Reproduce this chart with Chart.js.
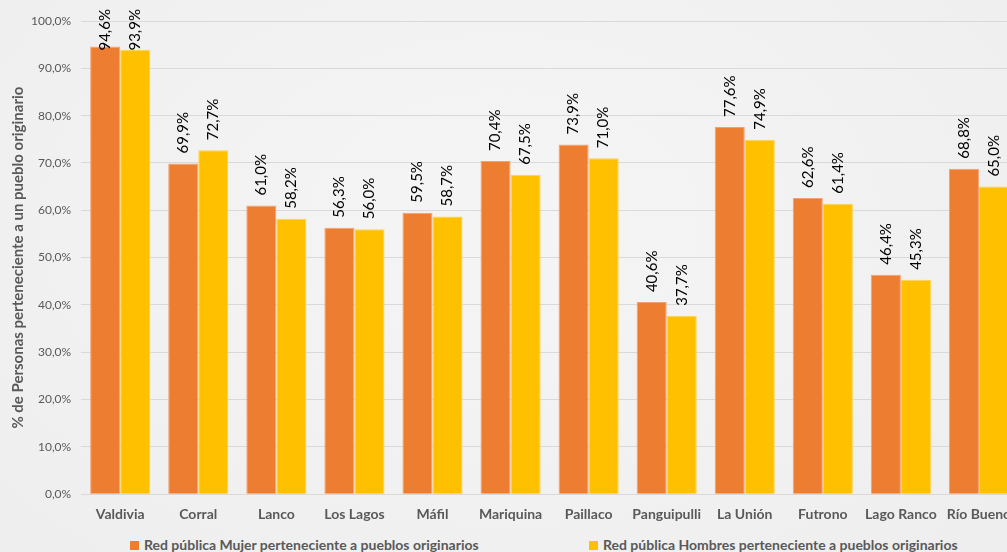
<!DOCTYPE html>
<html>
<head>
<meta charset="utf-8">
<script src="https://cdn.jsdelivr.net/npm/chart.js@4"></script>
<style>
  html, body { margin: 0; padding: 0; overflow: hidden; }
  body { width: 1007px; height: 552px; background: radial-gradient(ellipse at 50% 40%, #f5f5f5 0%, #eeeeee 100%); position: relative; font-family: Lato, sans-serif; }
  #wrap { position: absolute; left: 0; top: 0; width: 1022px; height: 527px; }
  #legend { position: absolute; top: 536px; left: 0; width: 1022px; font: bold 14px Lato, sans-serif; color: #595959; }
  .item { position: absolute; top: 0; white-space: nowrap; }
  .sw { display: inline-block; width: 9px; height: 9px; margin-right: 5px; vertical-align: 0px; }
</style>
</head>
<body>
<div id="wrap"><canvas id="chart"></canvas></div>
<div id="legend">
  <span class="item" style="left:130px"><span class="sw" style="background:#ED7D31"></span>Red pública Mujer perteneciente a pueblos originarios</span>
  <span class="item" style="left:589px"><span class="sw" style="background:#FFC000"></span>Red pública Hombres perteneciente a pueblos originarios</span>
</div>
<script>
const comunas = ['Valdivia', 'Corral', 'Lanco', 'Los Lagos', 'Máfil', 'Mariquina', 'Paillaco', 'Panguipulli', 'La Unión', 'Futrono', 'Lago Ranco', 'Río Bueno'];
const mujeres = [94.6, 69.9, 61.0, 56.3, 59.5, 70.4, 73.9, 40.6, 77.6, 62.6, 46.4, 68.8];
const hombres = [93.9, 72.7, 58.2, 56.0, 58.7, 67.5, 71.0, 37.7, 74.9, 61.4, 45.3, 65.0];

function pct(v) {
    return v.toFixed(1).replace('.', ',') + '%';
}

// etiquetas verticales sobre cada barra
const barLabels = {
    id: 'barLabels',
    afterDatasetsDraw(chart) {
        const ctx = chart.ctx;
        ctx.save();
        ctx.font = '15px Lato, sans-serif';
        ctx.fillStyle = '#000000';
        ctx.textAlign = 'left';
        ctx.textBaseline = 'middle';
        chart.data.datasets.forEach((ds, i) => {
            chart.getDatasetMeta(i).data.forEach((bar, j) => {
                const txt = pct(ds.data[j]);
                const w = ctx.measureText(txt).width;
                let start = bar.y - 10;
                if (start - w < 9) start = 9 + w;
                ctx.save();
                ctx.translate(bar.x, start);
                ctx.rotate(-Math.PI / 2);
                ctx.fillText(txt, 0, 0);
                ctx.restore();
            });
        });
        ctx.restore();
    }
};

new Chart(document.getElementById('chart'), {
    type: 'bar',
    data: {
        labels: comunas,
        datasets: [{
            label: 'Red pública Mujer perteneciente a pueblos originarios',
            data: mujeres,
            backgroundColor: '#ED7D31',
            borderColor: '#F4A06E',
            borderWidth: 1,
            barPercentage: 1,
            categoryPercentage: 0.77
        }, {
            label: 'Red pública Hombres perteneciente a pueblos originarios',
            data: hombres,
            backgroundColor: '#FFC000',
            borderColor: '#FFD24D',
            borderWidth: 1,
            barPercentage: 1,
            categoryPercentage: 0.77
        }]
    },
    options: {
        responsive: true,
        maintainAspectRatio: false,
        animation: false,
        layout: { padding: { top: 21, right: 4, left: 9 } },
        plugins: {
            legend: { display: false },
            tooltip: { enabled: false }
        },
        scales: {
            x: {
                grid: { display: false },
                border: { color: '#d9d9d9', width: 1 },
                ticks: { color: '#595959', font: { family: 'Lato', size: 14, weight: 'bold' }, padding: 4, maxRotation: 0 }
            },
            y: {
                min: 0,
                max: 100,
                grid: { color: '#d9d9d9', drawTicks: false },
                border: { display: false },
                ticks: {
                    stepSize: 10,
                    color: '#595959',
                    font: { family: 'Lato', size: 12 },
                    padding: 10,
                    callback: v => pct(v)
                },
                title: {
                    display: true,
                    text: '% de Personas perteneciente a un pueblo originario',
                    color: '#595959',
                    font: { family: 'Lato', size: 15, weight: 'bold' },
                    padding: { top: 0, bottom: -6 }
                }
            }
        }
    },
    plugins: [barLabels]
});
</script>
</body>
</html>
